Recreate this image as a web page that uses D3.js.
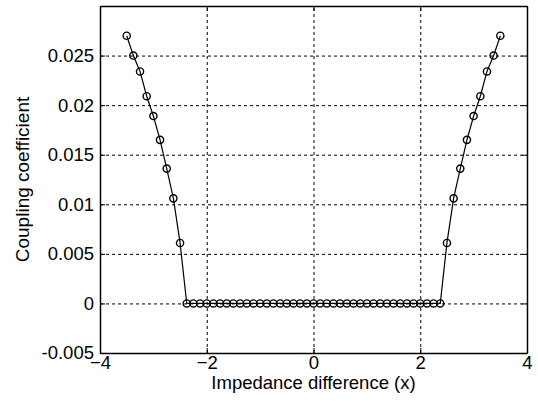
<!DOCTYPE html>
<html>
<head>
<meta charset="utf-8">
<script src="https://cdn.jsdelivr.net/npm/d3@7"></script>
<style>
  body { margin: 0; background: #fff; }
  svg { display: block; font-family: "Liberation Sans", Arial, sans-serif; }
  .grid line { stroke: #000; stroke-width: 1; stroke-dasharray: 3,3; }
  .grid path { display: none; }
  .axis path, .axis line { stroke: #000; }
  .axis text { font-size: 18.5px; fill: #000; }
</style>
</head>
<body>
<div id="chart"></div>
<script>
// impedance difference samples (x) and coupling coefficient
const xValues = [
  -3.5, -3.375, -3.25, -3.125, -3, -2.875, -2.75, -2.625, -2.5, -2.375,
  -2.25, -2.125, -2, -1.875, -1.75, -1.625, -1.5, -1.375, -1.25, -1.125,
  -1, -0.875, -0.75, -0.625, -0.5, -0.375, -0.25, -0.125, 0, 0.125,
  0.25, 0.375, 0.5, 0.625, 0.75, 0.875, 1, 1.125, 1.25, 1.375,
  1.5, 1.625, 1.75, 1.875, 2, 2.125, 2.25, 2.375, 2.5, 2.625,
  2.75, 2.875, 3, 3.125, 3.25, 3.375, 3.5
];
const yValues = [
  0.027, 0.025, 0.0234, 0.0209, 0.0189, 0.0165, 0.0136, 0.0106, 0.0061, 0,
  0, 0, 0, 0, 0, 0, 0, 0, 0, 0,
  0, 0, 0, 0, 0, 0, 0, 0, 0, 0,
  0, 0, 0, 0, 0, 0, 0, 0, 0, 0,
  0, 0, 0, 0, 0, 0, 0, 0, 0.0061, 0.0106,
  0.0136, 0.0165, 0.0189, 0.0209, 0.0234, 0.025, 0.027
];
const xTicks = [-4, -2, 0, 2, 4];
const yTicks = [-0.005, 0, 0.005, 0.01, 0.015, 0.02, 0.025];
const yTickLabels = ["-0.005", "0", "0.005", "0.01", "0.015", "0.02", "0.025"];

const width = 538, height = 401;
const margin = { top: 6, right: 11, bottom: 48, left: 100 };
const w = width - margin.left - margin.right,
      h = height - margin.top - margin.bottom;

const svg = d3.select("#chart").append("svg")
    .attr("width", width)
    .attr("height", height);

const g = svg.append("g")
    .attr("transform", `translate(${margin.left},${margin.top})`);

const x = d3.scaleLinear().domain([-4, 4]).range([0, w]);
const y = d3.scaleLinear().domain([-0.005, 0.03]).range([h, 0]);

// dotted grid, interior only
g.append("g")
    .attr("class", "grid")
    .attr("transform", `translate(0,${h})`)
    .call(d3.axisBottom(x).tickValues(xTicks.slice(1, -1)).tickSize(-h).tickFormat(""));
g.append("g")
    .attr("class", "grid")
    .call(d3.axisLeft(y).tickValues(yTicks.slice(1)).tickSize(-w).tickFormat(""));

// axes with inward ticks
const tick = 5;
g.append("g")
    .attr("class", "axis")
    .attr("transform", `translate(0,${h})`)
    .call(d3.axisBottom(x).tickValues(xTicks).tickSize(-tick).tickPadding(3).tickSizeOuter(0))
    .call(a => a.selectAll("text").attr("dy", "0.72em"));
g.append("g")
    .attr("class", "axis")
    .call(d3.axisLeft(y).tickValues(yTicks).tickSize(-tick).tickPadding(6).tickSizeOuter(0)
        .tickFormat((d, i) => yTickLabels[i]));
g.append("g")
    .attr("class", "axis")
    .call(d3.axisTop(x).tickValues(xTicks).tickSize(-tick).tickFormat("").tickSizeOuter(0));
g.append("g")
    .attr("class", "axis")
    .attr("transform", `translate(${w},0)`)
    .call(d3.axisRight(y).tickValues(yTicks).tickSize(-tick).tickFormat("").tickSizeOuter(0));

g.selectAll(".axis path").attr("stroke-width", 1.5);

// data line
const line = d3.line()
    .x((d, i) => x(xValues[i]))
    .y(d => y(d));
g.append("path")
    .datum(yValues)
    .attr("fill", "none")
    .attr("stroke", "#000")
    .attr("stroke-width", 1.2)
    .attr("d", line);

g.selectAll(".pt")
    .data(yValues)
    .enter().append("circle")
    .attr("class", "pt")
    .attr("cx", (d, i) => x(xValues[i]))
    .attr("cy", d => y(d))
    .attr("r", 3.6)
    .attr("fill", "none")
    .attr("stroke", "#000")
    .attr("stroke-width", 1.4);

// axis titles
svg.append("text")
    .attr("x", margin.left + w / 2)
    .attr("y", 389)
    .attr("text-anchor", "middle")
    .attr("font-size", 18.5)
    .text("Impedance difference (x)");
svg.append("text")
    .attr("transform", `translate(29,${margin.top + h / 2}) rotate(-90)`)
    .attr("text-anchor", "middle")
    .attr("font-size", 19)
    .text("Coupling coefficient");
</script>
</body>
</html>
